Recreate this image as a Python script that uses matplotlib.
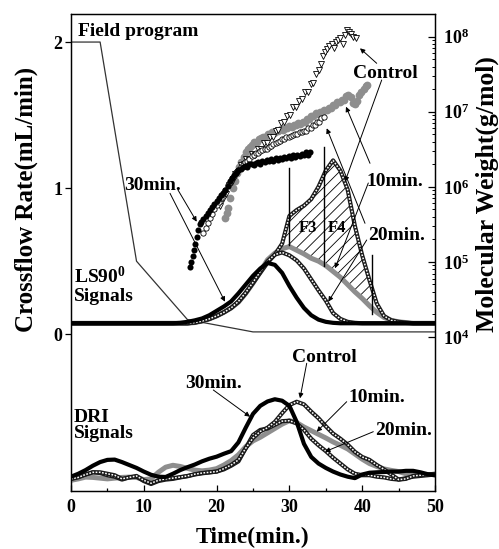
import numpy as np
import matplotlib
matplotlib.use('Agg')
import matplotlib.pyplot as plt
from matplotlib.ticker import FixedLocator, FixedFormatter, NullFormatter, NullLocator

plt.rcParams['font.family'] = ['Liberation Serif', 'DejaVu Serif']
plt.rcParams['font.weight'] = 'bold'
plt.rcParams['mathtext.fontset'] = 'custom'
plt.rcParams['mathtext.rm'] = 'Liberation Serif:bold'
plt.rcParams['mathtext.bf'] = 'Liberation Serif:bold'
plt.rcParams['mathtext.it'] = 'Liberation Serif:bold'
plt.rcParams['hatch.linewidth'] = 0.6
plt.rcParams['axes.linewidth'] = 0.9

# ---------------- data ----------------
# Field program (crossflow rate, mL/min)
field_t = [0, 4, 9, 16, 25, 50]
field_rate = [2.0, 2.0, 0.5, 0.1, 0.016, 0.016]

# LS90 signals (plotted in left-axis units)
ls_t = [0, 5, 10, 14, 15, 16, 17, 18, 19, 20, 21, 22, 23, 24, 25, 26, 27, 28, 29, 30,
        31, 32, 33, 34, 35, 36, 37, 38, 39, 40, 41, 42, 43, 44, 45, 46, 47, 50]
ls_30min = [0.075, 0.075, 0.075, 0.075, 0.078, 0.085, 0.095, 0.108, 0.13, 0.16, 0.19, 0.225,
            0.28, 0.34, 0.40, 0.45, 0.488, 0.475, 0.42, 0.33, 0.25, 0.18, 0.13, 0.10, 0.085,
            0.078, 0.075, 0.075, 0.075, 0.075, 0.075, 0.075, 0.075, 0.075, 0.075, 0.075, 0.075, 0.075]
ls_control = [0.075, 0.075, 0.075, 0.075, 0.075, 0.075, 0.08, 0.09, 0.105, 0.125, 0.15, 0.18,
              0.22, 0.28, 0.35, 0.42, 0.49, 0.545, 0.62, 0.81, 0.85, 0.88, 0.925, 1.01, 1.12,
              1.19, 1.12, 0.99, 0.74, 0.54, 0.37, 0.21, 0.125, 0.095, 0.085, 0.08, 0.075, 0.075]
ls_10min = [0.075, 0.075, 0.075, 0.075, 0.075, 0.075, 0.08, 0.09, 0.105, 0.125, 0.15, 0.18,
            0.22, 0.28, 0.35, 0.43, 0.51, 0.555, 0.585, 0.60, 0.575, 0.55, 0.52, 0.50, 0.47,
            0.43, 0.39, 0.34, 0.29, 0.245, 0.195, 0.15, 0.115, 0.095, 0.085, 0.08, 0.075, 0.075]
ls_20min = [0.075, 0.075, 0.075, 0.075, 0.075, 0.075, 0.08, 0.09, 0.105, 0.125, 0.15, 0.18,
            0.225, 0.285, 0.355, 0.43, 0.50, 0.545, 0.56, 0.54, 0.505, 0.45, 0.375, 0.30, 0.23,
            0.145, 0.105, 0.085, 0.078, 0.075, 0.075, 0.075, 0.075, 0.075, 0.075, 0.075, 0.075, 0.075]

# Fraction boundaries (F3, F4, end) in left-axis units
frac_t = [29.9, 34.8, 41.4]
frac_top = [1.135, 1.28, 0.54]
frac_bottom = [0.61, 0.47, 0.14]
hatch_start, hatch_end = 28.3, 41.4

# DRI signals (left-axis units)
dri_t = list(range(0, 51))
dri_30min = [-0.975, -0.955, -0.93, -0.90, -0.875, -0.86, -0.858, -0.875, -0.895, -0.915, -0.94,
             -0.962, -0.975, -0.977, -0.955, -0.93, -0.91, -0.892, -0.87, -0.852, -0.838, -0.818,
             -0.80, -0.74, -0.64, -0.545, -0.49, -0.46, -0.445, -0.455, -0.49, -0.60, -0.75, -0.84,
             -0.885, -0.915, -0.94, -0.96, -0.975, -0.985, -0.96, -0.948, -0.945, -0.943, -0.94,
             -0.94, -0.935, -0.935, -0.945, -0.958, -0.966]
dri_control = [-0.99, -0.98, -0.96, -0.945, -0.945, -0.955, -0.965, -0.99, -0.98, -0.97, -1.0,
               -1.02, -1.0, -0.99, -0.985, -0.978, -0.97, -0.958, -0.95, -0.945, -0.94, -0.92,
               -0.895, -0.86, -0.78, -0.71, -0.665, -0.64, -0.60, -0.54, -0.485, -0.462, -0.48,
               -0.53, -0.575, -0.63, -0.68, -0.715, -0.755, -0.805, -0.84, -0.86, -0.895, -0.925,
               -0.96, -0.995, -0.99, -0.97, -0.965, -0.96, -0.955]
dri_20min = [-0.99, -0.975, -0.96, -0.945, -0.95, -0.965, -0.975, -0.995, -0.98, -0.975, -1.005,
             -1.025, -1.005, -0.995, -0.99, -0.98, -0.972, -0.96, -0.952, -0.946, -0.94, -0.925,
             -0.90, -0.87, -0.78, -0.69, -0.655, -0.645, -0.62, -0.595, -0.592, -0.61, -0.655,
             -0.715, -0.76, -0.80, -0.845, -0.885, -0.925, -0.955, -0.965, -0.965, -0.975, -0.98,
             -0.99, -0.995, -0.985, -0.975, -0.97, -0.965, -0.96]
dri_10min = [-1.0, -0.99, -0.978, -0.98, -0.985, -0.99, -0.985, -0.98, -0.978, -0.98, -0.995,
             -0.99, -0.945, -0.91, -0.897, -0.905, -0.918, -0.93, -0.935, -0.93, -0.92, -0.895,
             -0.865, -0.825, -0.77, -0.73, -0.705, -0.675, -0.645, -0.615, -0.592, -0.605, -0.635,
             -0.66, -0.685, -0.71, -0.737, -0.76, -0.785, -0.82, -0.855, -0.885, -0.905, -0.922,
             -0.932, -0.94, -0.955, -0.96, -0.96, -0.96, -0.96]

# Molecular weight (log10 g/mol)
mw30_t = [16.3, 16.5, 16.7, 16.9, 17.1, 17.3, 17.5, 17.7, 17.9,
          18.2, 18.5, 18.8, 19.1, 19.4, 19.7, 20.0, 20.3, 20.6, 20.9,
          21.2, 21.5, 21.8, 22.1, 22.4, 22.7, 23.0, 23.3, 23.6, 23.9,
          24.2, 24.5, 24.8, 25.1, 25.4, 25.7, 26.0, 26.3, 26.6, 26.9,
          27.2, 27.5, 27.8, 28.1, 28.4, 28.7, 29.0, 29.3, 29.6, 29.9,
          30.2, 30.5, 30.8, 31.1, 31.4, 31.7, 32.0, 32.3, 32.6, 32.8]
mw30_log = [4.93, 5.00, 5.08, 5.16, 5.24, 5.33, 5.42, 5.50, 5.53,
            5.57, 5.61, 5.65, 5.69, 5.73, 5.77, 5.81, 5.85, 5.89, 5.92,
            5.96, 6.01, 6.08, 6.12, 6.16, 6.19, 6.22, 6.24, 6.26, 6.28,
            6.27, 6.30, 6.31, 6.29, 6.32, 6.33, 6.31, 6.34, 6.33, 6.36,
            6.34, 6.37, 6.35, 6.38, 6.36, 6.39, 6.37, 6.40, 6.38, 6.41,
            6.39, 6.42, 6.40, 6.43, 6.41, 6.44, 6.42, 6.46, 6.43, 6.47]

mw20_t = [18.2, 18.5, 18.8, 19.1, 19.4, 19.7, 20.0, 20.3, 20.6, 20.9,
          21.2, 21.5, 21.8, 22.1, 22.4, 22.7, 23.0, 23.3, 23.6, 23.9,
          24.2, 24.5, 24.8, 25.1, 25.4, 25.7, 26.0, 26.3, 26.6, 26.9,
          27.2, 27.5, 27.8, 28.1, 28.4, 28.7, 29.0, 29.3, 29.6, 29.9,
          30.2, 30.5, 30.8, 31.1, 31.4, 31.7, 32.0, 32.3, 32.6, 32.9,
          33.2, 33.5, 33.8, 34.1, 34.4, 34.7]
mw20_log = [5.38, 5.45, 5.52, 5.58, 5.64, 5.70, 5.76, 5.80, 5.85, 5.90,
            5.96, 6.02, 6.06, 6.12, 6.15, 6.20, 6.23, 6.27, 6.29, 6.33,
            6.35, 6.37, 6.41, 6.42, 6.45, 6.45, 6.48, 6.49, 6.51, 6.51,
            6.53, 6.54, 6.57, 6.58, 6.60, 6.61, 6.64, 6.64, 6.66, 6.66,
            6.68, 6.69, 6.71, 6.71, 6.73, 6.73, 6.75, 6.75, 6.78, 6.79,
            6.82, 6.83, 6.87, 6.87, 6.92, 6.93]

mw10_t = [21.2, 21.4, 21.6,
          21.9, 22.2, 22.5, 22.8, 23.1, 23.4, 23.7, 24.0, 24.3, 24.6,
          24.9, 25.2, 25.5, 25.8, 26.1, 26.4, 26.7, 27.0, 27.3, 27.6,
          27.9, 28.2, 28.5, 28.8, 29.1, 29.4, 29.7, 30.0, 30.3, 30.6,
          30.9, 31.2, 31.5, 31.8, 32.1, 32.4, 32.7, 33.0, 33.3, 33.6,
          33.9, 34.2, 34.5, 34.8, 35.1, 35.4, 35.7, 36.0, 36.3, 36.6,
          36.9, 37.2, 37.5, 37.8, 38.1, 38.4, 38.7, 39.0, 39.3, 39.6,
          39.9, 40.2, 40.5, 40.7]
mw10_log = [5.58, 5.65, 5.72,
            5.85, 5.98, 6.08, 6.18, 6.26, 6.33, 6.40, 6.46, 6.50, 6.53,
            6.56, 6.60, 6.60, 6.64, 6.65, 6.67, 6.67, 6.70, 6.69, 6.73,
            6.72, 6.75, 6.74, 6.77, 6.76, 6.79, 6.78, 6.81, 6.80, 6.83,
            6.82, 6.85, 6.84, 6.87, 6.87, 6.91, 6.91, 6.95, 6.95, 6.98,
            6.97, 7.00, 6.99, 7.03, 7.02, 7.05, 7.05, 7.09, 7.09, 7.13,
            7.13, 7.16, 7.16, 7.21, 7.22, 7.20, 7.12, 7.10, 7.14, 7.22,
            7.27, 7.30, 7.34, 7.36]

mwc_t = [20.5, 20.9, 21.3, 21.7, 22.1, 22.5, 22.9, 23.3, 23.7, 24.1,
         24.5, 24.9, 25.3, 25.7, 26.1, 26.5, 26.9, 27.3, 27.7, 28.1,
         28.5, 28.9, 29.3, 29.7, 30.1, 30.5, 30.9, 31.3, 31.7, 32.1,
         32.5, 32.9, 33.3, 33.7,
         34.0, 34.3, 34.6, 34.9, 35.2, 35.5, 35.8, 36.1, 36.4, 36.7,
         37.0, 37.3, 37.6, 37.9, 38.2, 38.5, 38.8, 39.1]
mwc_log = [5.75, 5.84, 5.90, 6.02, 6.06, 6.17, 6.20, 6.29, 6.30, 6.37,
           6.36, 6.44, 6.43, 6.50, 6.50, 6.58, 6.58, 6.66, 6.66, 6.74,
           6.76, 6.85, 6.86, 6.95, 6.96, 7.06, 7.07, 7.15, 7.17, 7.26,
           7.27, 7.37, 7.39, 7.50,
           7.56, 7.64, 7.74, 7.79, 7.83, 7.87, 7.90, 7.85, 7.93, 7.96,
           7.98, 7.90, 8.02, 8.09, 8.06, 8.03, 8.00, 7.98]

# ---------------- figure ----------------
W, H = 499, 549
fig = plt.figure(figsize=(W / 100, H / 100), dpi=100)
ax = fig.add_axes([71 / W, 1 - 491 / H, (435 - 71) / W, (491 - 14) / H])
ax.set_xlim(0, 50)
ax.set_ylim(-1.073, 2.192)

def fp(x, y):
    return (x / W, 1 - y / H)

def ladder(a, x, y, z):
    a.plot(x, y, color='#1a1a1a', lw=3.0, zorder=z, solid_joinstyle='round', solid_capstyle='round')
    a.plot(x, y, color='white', lw=1.1, dashes=(1.1, 1.0), zorder=z + 0.1)

GRAY = '#8e8e8e'

# field program
ax.plot(field_t, field_rate, color='#333333', lw=0.9, zorder=2)

# hatched area between control and 10min LS
tf = np.linspace(hatch_start, hatch_end, 200)
ax.fill_between(tf, np.interp(tf, ls_t, ls_control), np.interp(tf, ls_t, ls_10min),
                facecolor='none', edgecolor='black', hatch='///', linewidth=0, zorder=2.5)

# LS curves
ax.plot(ls_t, ls_10min, color=GRAY, lw=3.6, zorder=3, solid_joinstyle='round')
ladder(ax, ls_t, ls_control, 3.2)
ladder(ax, ls_t, ls_20min, 3.4)
ax.plot(ls_t, ls_30min, color='black', lw=3.0, zorder=4, solid_joinstyle='round')

# fraction lines
for xt, y0, y1 in zip(frac_t, frac_bottom, frac_top):
    ax.plot([xt, xt], [y0, y1], color='black', lw=1.0, zorder=5)

# DRI curves
ax.plot(dri_t, dri_10min, color=GRAY, lw=3.6, zorder=3, solid_joinstyle='round')
ladder(ax, dri_t, dri_20min, 3.2)
ladder(ax, dri_t, dri_control, 3.4)
ax.plot(dri_t, dri_30min, color='black', lw=3.0, zorder=4, solid_joinstyle='round')

# right axis: molecular weight
ax2 = ax.twinx()
ax2.set_yscale('log')
ax2.set_ylim(10 ** 1.947, 10 ** 8.303)
ax2.plot(mw10_t, 10 ** np.array(mw10_log), 'o', color=GRAY, ms=5.6, mew=0, zorder=3)
ax2.plot(mwc_t, 10 ** np.array(mwc_log), 'v', mfc='white', mec='black', ms=3.8, mew=0.6, zorder=4)
ax2.plot(mw20_t, 10 ** np.array(mw20_log), 'o', mfc='white', mec='black', ms=3.8, mew=0.6, zorder=4)
ax2.plot(mw30_t, 10 ** np.array(mw30_log), 'o', color='black', ms=4.4, mew=0, zorder=5)

# ticks
ax.set_xticks([0, 10, 20, 30, 40, 50])
ax.set_xticks([5, 15, 25, 35, 45], minor=True)
ax.tick_params(axis='x', which='major', direction='in', length=4, width=0.9, labelsize=13, pad=6, top=False)
ax.tick_params(axis='x', which='minor', direction='in', length=2.5, width=0.9, top=False)
ax.set_yticks([0, 1, 2])
ax.set_yticklabels(['0', '1', '2'])
ax.yaxis.set_minor_locator(NullLocator())
ax.tick_params(axis='y', which='major', direction='out', length=4, width=0.9, labelsize=13, pad=2)

decades = [1e4, 1e5, 1e6, 1e7, 1e8]
ax2.yaxis.set_major_locator(FixedLocator(decades))
ax2.yaxis.set_major_formatter(FixedFormatter([r'$\mathbf{10^{%d}}$' % k for k in range(4, 9)]))
minors = [m * 10 ** d for d in range(4, 8) for m in range(2, 10)]
ax2.yaxis.set_minor_locator(FixedLocator(minors))
ax2.yaxis.set_minor_formatter(NullFormatter())
ax2.tick_params(axis='y', which='major', direction='in', length=5, width=0.9, labelsize=13, pad=6)
ax2.tick_params(axis='y', which='minor', direction='in', length=2.5, width=0.7)

# axis labels
fig.text(*fp(26, 199), 'Crossflow Rate(mL/min)', rotation=90, ha='center', va='center', fontsize=18)
fig.text(*fp(487, 194), 'Molecular Weight(g/mol)', rotation=90, ha='center', va='center', fontsize=18.5)
fig.text(*fp(253, 543), 'Time(min.)', ha='center', va='baseline', fontsize=17)

# annotations (text, x, baseline y, ha, size)
texts = [
    ('Field program', 78, 36.5, 'left', 14),
    ('30min.', 153, 190, 'center', 14),
    ('Control', 385, 78, 'center', 14),
    ('10min.', 395, 186.5, 'center', 14),
    ('20min.', 396.5, 240, 'center', 14),
    ('F3', 308.3, 231.5, 'center', 12),
    ('F4', 336.7, 231.5, 'center', 12),
    (r'LS90$^{\mathbf{0}}$', 74, 283, 'left', 14),
    ('Signals', 74, 301, 'left', 14),
    ('Control', 324, 362, 'center', 14),
    ('30min.', 214, 388, 'center', 14),
    ('10min.', 377, 402, 'center', 14),
    ('20min.', 404, 435, 'center', 14),
    ('DRI', 74, 422, 'left', 14),
    ('Signals', 74, 438, 'left', 14),
]
for s, x, y, ha, fs in texts:
    fig.text(*fp(x, y), s, ha=ha, va='baseline', fontsize=fs, zorder=10)

arrows = [
    ((178, 190), (196.7, 221.7)),
    ((170, 193.3), (225, 301.7)),
    ((376.7, 63.3), (360, 48.3)),
    ((381.7, 80), (345, 181.7)),
    ((370, 163.3), (346, 106.7)),
    ((368.3, 183), (335, 268.3)),
    ((365, 223.3), (326.7, 128.3)),
    ((366.7, 240), (328.3, 301.7)),
    ((306.7, 363.3), (300, 398.3)),
    ((213.3, 390), (250, 416.7)),
    ((346.7, 401.7), (316.7, 431.7)),
    ((373.3, 431.7), (325, 451.7)),
]
for (x0, y0), (x1, y1) in arrows:
    ax2.annotate('', xy=fp(x1, y1), xycoords='figure fraction',
                 xytext=fp(x0, y0), textcoords='figure fraction',
                 arrowprops=dict(arrowstyle='-|>', lw=0.7, color='black',
                                 mutation_scale=7, shrinkA=0, shrinkB=0), zorder=9)

fig.savefig('out.png', dpi=100)
